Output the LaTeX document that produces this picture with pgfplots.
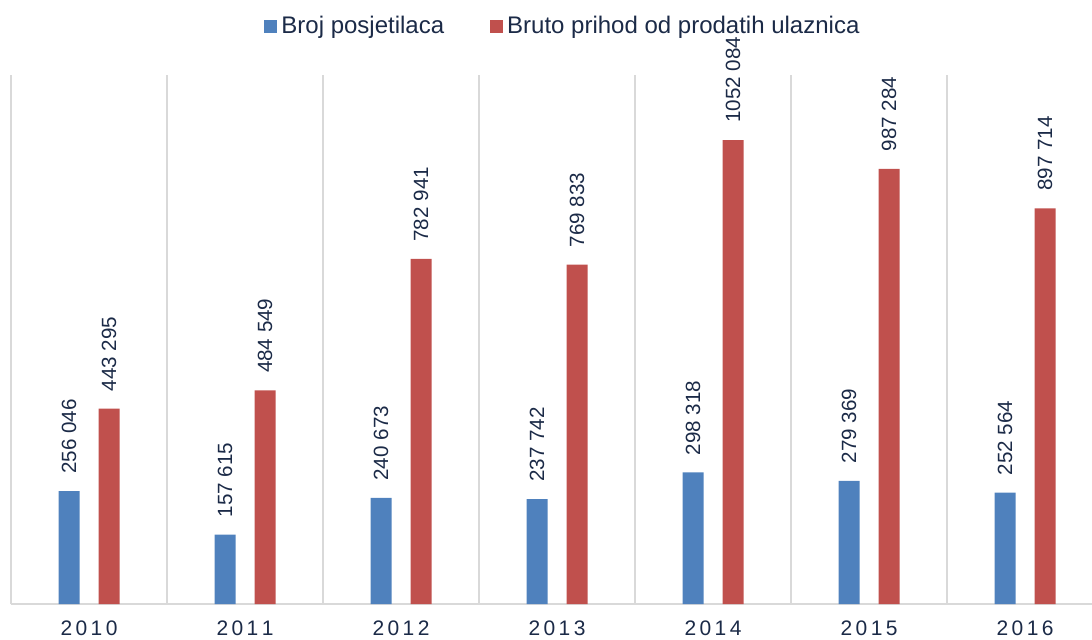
\documentclass[border=0pt]{standalone}
\usepackage{pgfplots}
\pgfplotsset{compat=1.18}
\usepackage{fontspec}
\setmainfont{Liberation Sans}
\definecolor{cblue}{HTML}{4F81BD}
\definecolor{cred}{HTML}{C0504D}
\definecolor{ctext}{HTML}{1B2A47}
\definecolor{cgrid}{HTML}{D9D9D9}
\newcommand{\ls}[4]{#1\kern1.7pt#2\kern1.7pt#3\kern1.7pt#4}
\begin{document}
\begin{tikzpicture}
\useasboundingbox (-5.5pt,-17.5pt) rectangle (540.5pt,302pt);
\begin{axis}[
  at={(0,0)}, anchor=south west,
  scale only axis,
  width=540.5pt, height=264.5pt,
  xmin=-0.5, xmax=6.429, ymin=0, ymax=1200000,
  hide y axis,
  axis x line*=bottom,
  x axis line style={cgrid, line width=0.75pt, -},
  xtick={0,...,6},
  xticklabels={\ls2010,\ls2011,\ls2012,\ls2013,\ls2014,\ls2015,\ls2016},
  major tick length=0pt,
  xticklabel style={font=\fontsize{10.5}{12}\selectfont, text=ctext, yshift=-5pt},
  extra x ticks={-0.5,0.5,1.5,2.5,3.5,4.5,5.5},
  extra x tick labels={},
  extra x tick style={grid=major, major grid style={cgrid, line width=0.75pt}},
  ybar, bar width=10.5pt,
  clip=false,
  nodes near coords,
  point meta=explicit symbolic,
  every node near coord/.append style={rotate=90, anchor=west, inner sep=0pt, xshift=8.5pt, font=\fontsize{10.3}{12}\selectfont, text=ctext},
  legend columns=2,
  legend style={at={(0.5115,1.0926)}, anchor=center, draw=none, fill=none,
    font=\fontsize{12}{14}\selectfont, text=ctext,
    /tikz/every even column/.append style={column sep=21pt}},
]
\addplot[fill=cblue, draw=none, bar shift=-10pt,
  legend image code/.code={\fill[cblue] (0pt,-3.25pt) rectangle (6.5pt,3.25pt);}]
  coordinates {(0,256046) [256 046] (1,157615) [157 615] (2,240673) [240 673]
  (3,237742) [237 742] (4,298318) [298 318] (5,279369) [279 369] (6,252564) [252 564]};
\addplot[fill=cred, draw=none, bar shift=10pt,
  legend image code/.code={\fill[cred] (0pt,-3.25pt) rectangle (6.5pt,3.25pt);}]
  coordinates {(0,443295) [443 295] (1,484549) [484 549] (2,782941) [782 941]
  (3,769833) [769 833] (4,1052084) [1052 084] (5,987284) [987 284] (6,897714) [897 714]};
\legend{Broj posjetilaca, Bruto prihod od prodatih ulaznica}
\end{axis}
\end{tikzpicture}
\end{document}
